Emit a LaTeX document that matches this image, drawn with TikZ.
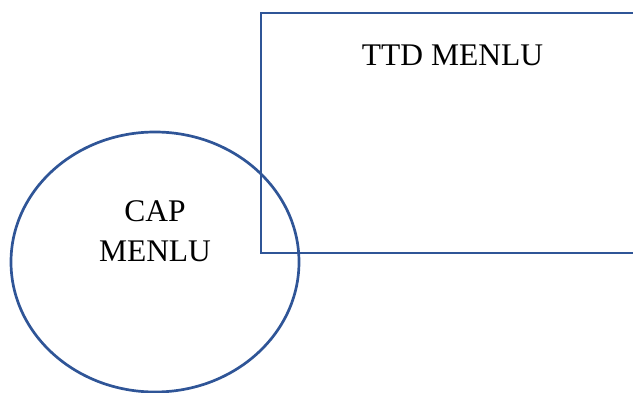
\documentclass[tikz,border=0pt]{standalone}
\usepackage{fontspec}
\setmainfont{Liberation Serif}
\definecolor{shapeblue}{HTML}{2F5597}
\begin{document}
\begin{tikzpicture}[x=1pt,y=-1pt,
  outline/.style={draw=shapeblue,line width=2.7pt},
  label/.style={font=\fontsize{31.5}{40}\selectfont,text=black,anchor=base,inner sep=0pt}]
\useasboundingbox (0,0) rectangle (633,393);
\draw[outline] (261,13) rectangle (645,253);
\coordinate (rectc) at (453,133);
\draw[outline] (155,262) ellipse [x radius=144, y radius=130];
\coordinate (ellc) at (155,262);
\node[label] (ttd) at (452.5,66) {TTD MENLU};
\node[label] (cap) at (155,222) {CAP};
\node[label] (menlu) at (155,262) {MENLU};
\end{tikzpicture}
\end{document}
